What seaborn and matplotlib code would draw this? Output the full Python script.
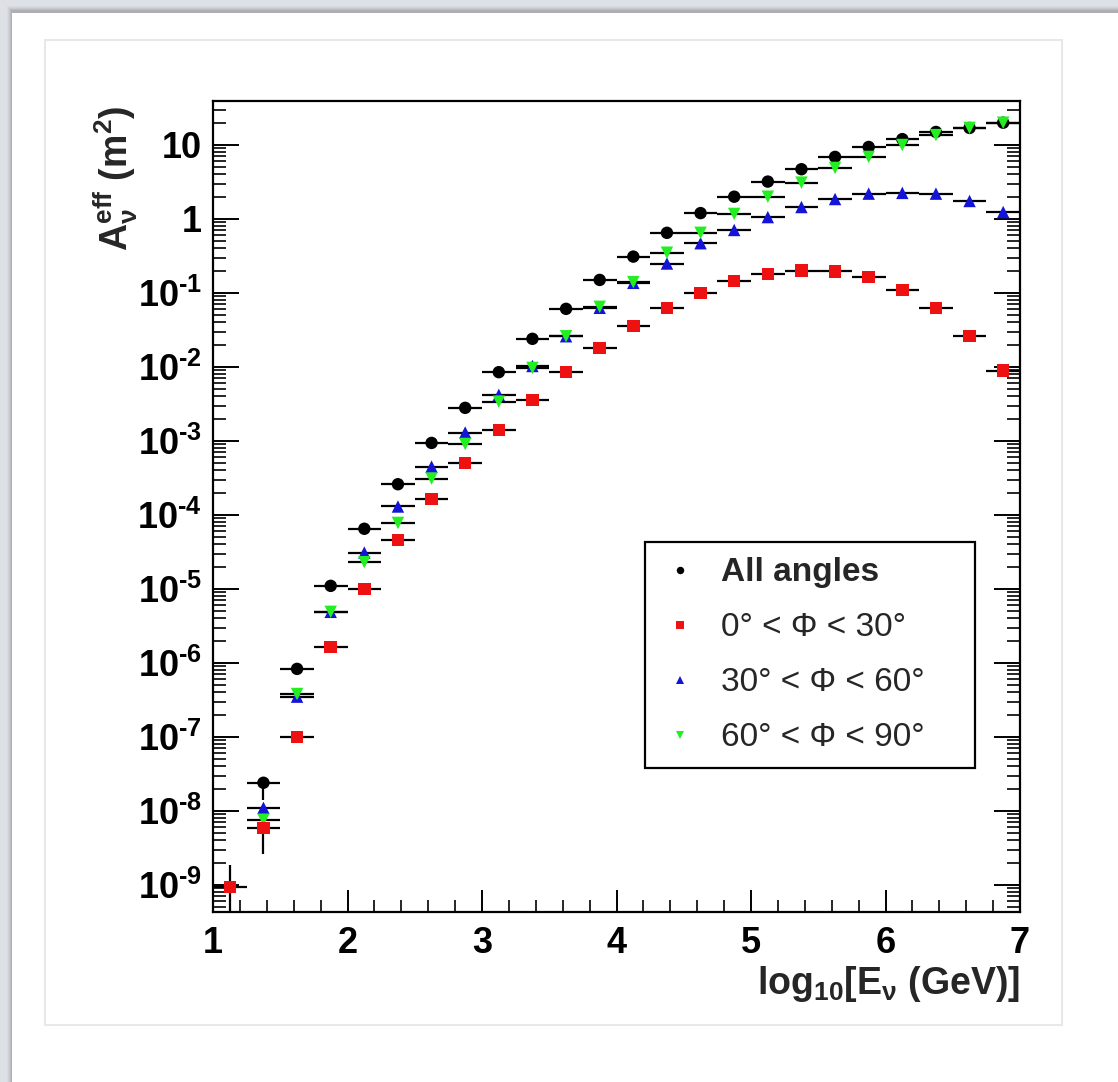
import numpy as np
import pandas as pd
import matplotlib
matplotlib.use("Agg")
import matplotlib.pyplot as plt
import seaborn as sns
from matplotlib.patches import Rectangle
from matplotlib.ticker import FixedLocator, FixedFormatter, LogLocator, MultipleLocator, NullFormatter

# ---------------- data ----------------
log_energy = [1.125, 1.375, 1.625, 1.875, 2.125, 2.375, 2.625, 2.875,
              3.125, 3.375, 3.625, 3.875, 4.125, 4.375, 4.625, 4.875,
              5.125, 5.375, 5.625, 5.875, 6.125, 6.375, 6.625, 6.875]
bin_halfwidth = 0.125
nan = np.nan
all_angles = [nan, 2.4e-8, 8.3e-7, 1.1e-5, 6.5e-5, 2.6e-4, 9.4e-4, 2.8e-3,
              8.5e-3, 2.4e-2, 6.1e-2, 0.15, 0.31, 0.65, 1.2, 2.0,
              3.2, 4.7, 6.9, 9.4, 12.0, 15.0, 17.0, 20.0]
phi_0_30 = [9.4e-10, 5.9e-9, 1.0e-7, 1.65e-6, 1.0e-5, 4.6e-5, 1.65e-4, 5.0e-4,
            1.4e-3, 3.6e-3, 8.5e-3, 1.8e-2, 3.6e-2, 6.3e-2, 0.10, 0.145,
            0.18, 0.20, 0.195, 0.165, 0.11, 0.063, 0.026, 8.9e-3]
phi_30_60 = [nan, 1.1e-8, 3.5e-7, 4.9e-6, 3.1e-5, 1.3e-4, 4.5e-4, 1.3e-3,
             4.2e-3, 1.03e-2, 2.6e-2, 6.3e-2, 0.137, 0.25, 0.47, 0.71,
             1.06, 1.45, 1.86, 2.2, 2.25, 2.2, 1.75, 1.24]
phi_60_90 = [nan, 7.6e-9, 3.8e-7, 4.9e-6, 2.3e-5, 7.8e-5, 3.1e-4, 9.1e-4,
             3.4e-3, 9.7e-3, 2.6e-2, 6.5e-2, 0.14, 0.35, 0.65, 1.17,
             2.0, 3.1, 4.9, 6.9, 10.0, 13.6, 17.0, 20.0]
# vertical errors (only visible at the lowest energies)
err_all_lo = [0, 1.0e-8] + [0] * 22
err_all_hi = [0, 0.3e-8] + [0] * 22
err_0_30 = [9.0e-10, 3.3e-9] + [0] * 22
err_30_60 = [0] * 24
err_60_90 = [0] * 24

series_labels = ["All angles", "0\u00b0 < \u03a6 < 30\u00b0",
                 "30\u00b0 < \u03a6 < 60\u00b0", "60\u00b0 < \u03a6 < 90\u00b0"]
series_values = [all_angles, phi_0_30, phi_30_60, phi_60_90]
series_errors = [[err_all_lo, err_all_hi], err_0_30, err_30_60, err_60_90]

y_tick_values = [1e-9, 1e-8, 1e-7, 1e-6, 1e-5, 1e-4, 1e-3, 1e-2, 1e-1, 1, 10]
y_tick_labels = [r"$10^{\text{-}9}$", r"$10^{\text{-}8}$", r"$10^{\text{-}7}$",
                 r"$10^{\text{-}6}$", r"$10^{\text{-}5}$", r"$10^{\text{-}4}$",
                 r"$10^{\text{-}3}$", r"$10^{\text{-}2}$", r"$10^{\text{-}1}$", "1", "10"]

# ---------------- styling ----------------
colors = {series_labels[0]: "#000000", series_labels[1]: "#ee1111",
          series_labels[2]: "#1414d8", series_labels[3]: "#22ee22"}
markers = {series_labels[0]: "o", series_labels[1]: "s",
           series_labels[2]: "^", series_labels[3]: "v"}
draw_order = [0, 2, 3, 1]

sns.set_theme(style="white")
plt.rcParams["font.family"] = ["Liberation Sans", "DejaVu Sans"]
plt.rcParams["mathtext.fontset"] = "custom"
plt.rcParams["mathtext.rm"] = "Liberation Sans:bold"
plt.rcParams["mathtext.it"] = "Liberation Sans:bold"
plt.rcParams["mathtext.bf"] = "Liberation Sans:bold"
plt.rcParams["mathtext.sf"] = "Liberation Sans:bold"

W, H = 1118, 1082
fig = plt.figure(figsize=(W / 100, H / 100), dpi=100, facecolor="#dde1e6")

def px_rect(x0, y0, x1, y1, **kw):
    r = Rectangle((x0 / W, 1 - y1 / H), (x1 - x0) / W, (y1 - y0) / H,
                  transform=fig.transFigure, **kw)
    fig.add_artist(r)
    return r

# page-like frame with soft shadow
for i, a in enumerate([0.025, 0.035, 0.045, 0.055, 0.07]):
    px_rect(7 + i, 6 + i, W + 5, H + 5, facecolor="black", alpha=a, edgecolor="none", zorder=-10)
px_rect(12, 13, W + 5, H + 5, facecolor="white", edgecolor="none", zorder=-9)
px_rect(45, 40, 1062, 1025, facecolor="white", edgecolor="#e8e8e8", linewidth=1.5, zorder=-8)

ax = fig.add_axes([213 / W, 1 - 912 / H, (1020 - 213) / W, (912 - 101) / H])
ax.set_facecolor("white")

frames = []
for idx in draw_order:
    frames.append(pd.DataFrame({"logE": log_energy, "Aeff": series_values[idx],
                                "series": series_labels[idx]}))
df = pd.concat(frames, ignore_index=True).dropna()

ax.set_yscale("log")
for idx in draw_order:
    ax.errorbar(log_energy, series_values[idx], xerr=bin_halfwidth, yerr=series_errors[idx],
                fmt="none", ecolor="black", elinewidth=1.6, capsize=0, zorder=2)

sns.scatterplot(data=df, x="logE", y="Aeff", hue="series", style="series",
                hue_order=series_labels, style_order=series_labels,
                palette=colors, markers=markers, s=80, linewidth=0,
                edgecolor="none", ax=ax, zorder=3)

ax.set_xlim(1, 7)
ax.set_ylim(4.3e-10, 39.3)

ax.xaxis.set_major_locator(MultipleLocator(1))
ax.xaxis.set_minor_locator(MultipleLocator(0.2))
ax.yaxis.set_major_locator(FixedLocator(y_tick_values))
ax.yaxis.set_major_formatter(FixedFormatter(y_tick_labels))
ax.yaxis.set_minor_locator(LogLocator(base=10, subs=np.arange(2, 10), numticks=100))
ax.yaxis.set_minor_formatter(NullFormatter())

ax.tick_params(axis="x", which="major", direction="in", length=16, width=1.4,
               bottom=True, top=False, labelsize=26, pad=10, colors="black")
ax.tick_params(axis="x", which="minor", direction="in", length=9, width=1.4,
               bottom=True, top=False)
ax.tick_params(axis="y", which="major", direction="in", length=19, width=1.4,
               left=True, right=True, labelsize=26, pad=8, colors="black")
ax.tick_params(axis="y", which="minor", direction="in", length=9.5, width=1.4,
               left=True, right=True)
for lab in ax.get_xticklabels() + ax.get_yticklabels():
    lab.set_fontweight("bold")

for sp in ax.spines.values():
    sp.set_color("black")
    sp.set_linewidth(1.6)
    sp.set_visible(True)

ax.set_xlabel(r"log$_{10}$[E$_{\nu}$ (GeV)]", fontsize=27, fontweight="bold", loc="right")
ax.xaxis.set_label_coords(1.0, -0.064)
ax.set_ylabel(r"A$_{\nu}^{\rm eff}$ (m$^{2}$)", fontsize=27, fontweight="bold", loc="top")
ax.yaxis.set_label_coords(-0.09, 0.995)

handles, labels = ax.get_legend_handles_labels()
leg = ax.legend(handles, labels, loc="upper left",
                bbox_to_anchor=(0.535, 0.147, 0.409, 0.309), mode="expand",
                borderaxespad=0, frameon=True, fancybox=False, fontsize=24,
                markerscale=0.6, labelspacing=0.72, borderpad=0.45,
                handlelength=1.2, handletextpad=0.65)
leg.get_frame().set_edgecolor("black")
leg.get_frame().set_linewidth(1.6)
leg.get_frame().set_facecolor("white")
leg.get_frame().set_alpha(1)
leg.get_texts()[0].set_fontweight("bold")

fig.savefig("out.png", dpi=100, facecolor=fig.get_facecolor())
